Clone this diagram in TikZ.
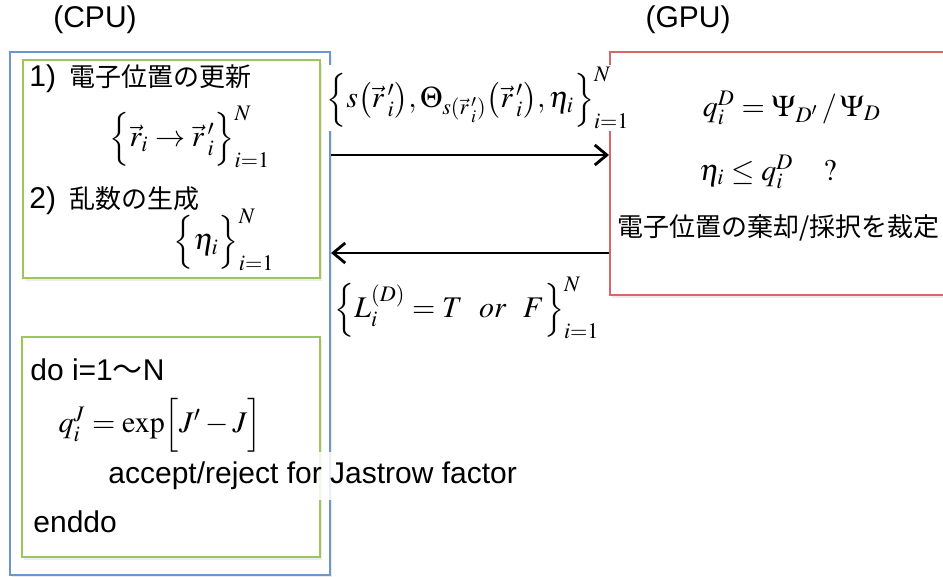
\documentclass[tikz,border=0pt]{standalone}
\usepackage{amsmath}
\usepackage{mathptmx}
\usepackage{fontspec}
\setmainfont{Liberation Sans}
\newfontfamily\jp{Noto Sans CJK JP}
\usetikzlibrary{arrows.meta,positioning,shadows}

\definecolor{cpublue}{RGB}{108,150,210}
\definecolor{loopgreen}{RGB}{158,196,92}
\definecolor{gpured}{RGB}{216,102,102}

\begin{document}
\begin{tikzpicture}[x=0.5pt,y=-0.5pt,
	frame/.style={line width=1pt, fill=white, inner sep=0pt,
		drop shadow={opacity=0.15, shadow xshift=1pt, shadow yshift=-1.5pt}},
	txt/.style={inner sep=1pt, font=\fontsize{15}{18}\selectfont},
	jtxt/.style={inner sep=1pt, font=\fontsize{13}{15}\selectfont\jp},
	eq/.style={inner sep=1pt, fill=white, font=\fontsize{15}{18}\selectfont},
	veil/.style={fill=white, fill opacity=0.85, text opacity=1},
	pass/.style={line width=0.8pt, -{Straight Barb[length=6pt,width=10pt,line width=1.4pt]}}]
	\useasboundingbox (0,0) rectangle (943,577);

	% headers
	\node [txt] (cpuhead) at (95,20) {(CPU)};
	\node [txt] (gpuhead) at (688,20) {(GPU)};

	% boxes
	\node [frame, draw=cpublue, minimum width=160pt, minimum height=261.5pt] (cpu) at (170,313.5) {};
	\node [frame, draw=loopgreen, minimum width=148.5pt, minimum height=109pt] (upd) at (171.5,169) {};
	\node [frame, draw=loopgreen, minimum width=149pt, minimum height=110pt] (loop) at (171,447) {};
	\node [frame, draw=gpured, minimum width=200pt, minimum height=121.5pt] (gpu) at (810,173.5) {};

	% CPU side: update and random numbers
	\node [txt, anchor=west] (step1) at (27,79) {1)\, {\jp\fontsize{13}{15}\selectfont 電子位置の更新}};
	\node [eq, fill=none] (rvec) at (190,137) {$\Bigl\{\vec{r}_i \rightarrow \vec{r}\,'_i\Bigr\}_{i=1}^{N}$};
	\node [txt, anchor=west] (step2) at (27,201) {2)\, {\jp\fontsize{13}{15}\selectfont 乱数の生成}};
	\node [eq, fill=none] (etaset) at (224,240) {$\Bigl\{\eta_i\Bigr\}_{i=1}^{N}$};

	% CPU side: Jastrow loop
	\node [txt, anchor=west] (doline) at (28,370) {do i=1{\jp〜}N};
	\node [eq, fill=none] (qj) at (160,425) {$q_i^J = \exp\Bigl[J' - J\Bigr]$};
	\node [txt, anchor=west, veil, inner ysep=5pt] (accept) at (106,476) {accept/reject for Jastrow factor};
	\node [txt, anchor=west] (enddo) at (31,522) {enddo};

	% GPU side
	\node [eq, fill=none] (ratio) at (792,108) {$q_i^D = \Psi_{D'} \,/\, \Psi_D$};
	\node [eq, fill=none] (test) at (768,172) {$\eta_i \le q_i^D \quad ?$};
	\node [jtxt, anchor=west, veil, inner ysep=6pt] (judge) at (615,228) {電子位置の棄却/採択を裁定};

	% transfers
	\draw [pass] (cpu.east |- 0,155) -- (gpu.west |- 0,155);
	\draw [pass] (gpu.west |- 0,253) -- (cpu.east |- 0,253);
	\node [eq] (sendlbl) at (478,98) {$\Bigl\{s\bigl(\vec{r}\,'_i\bigr), \Theta_{s(\vec{r}\,'_i)}\bigl(\vec{r}\,'_i\bigr), \eta_i\Bigr\}_{i=1}^{N}$};
	\node [eq] (recvlbl) at (467,308) {$\Bigl\{L_i^{(D)} = T\ \ or\ \ F\Bigr\}_{i=1}^{N}$};
\end{tikzpicture}
\end{document}
